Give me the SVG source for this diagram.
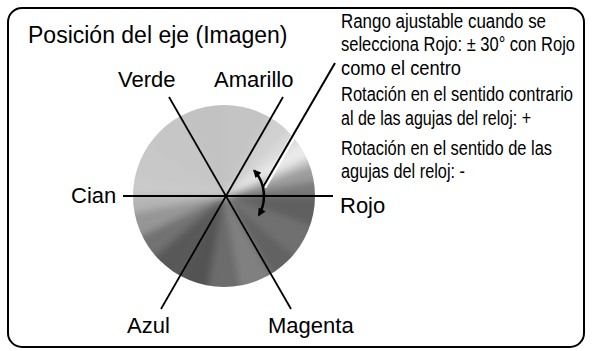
<svg xmlns="http://www.w3.org/2000/svg" width="592" height="351" viewBox="0 0 592 351">
<style>
.t{font-family:"Liberation Sans",Arial,sans-serif;fill:#000}
.lbl{font-size:22px}
.note{font-family:"Liberation Sans Narrow","Liberation Sans",Arial,sans-serif;font-size:19.5px}
.ax{stroke:#000;stroke-width:1.8;fill:none}
</style>
<defs>
<clipPath id="disc"><circle cx="224" cy="196" r="91"/></clipPath>
<filter id="soft" x="-20%" y="-20%" width="140%" height="140%"><feGaussianBlur stdDeviation="3.5"/></filter>
<marker id="ah" viewBox="0 0 10 10" refX="8" refY="5" markerWidth="9" markerHeight="8" markerUnits="userSpaceOnUse" orient="auto-start-reverse"><path d="M0,0 L10,5 L0,10 z" fill="#000"/></marker>
</defs>
<rect x="8" y="8" width="576" height="339" rx="14" ry="14" fill="#fff" stroke="#000" stroke-width="2"/>
<g id="disc-shading" clip-path="url(#disc)">
<g filter="url(#soft)">
<path d="M225,196 L355,196 L353,173.4 Z" fill="#7a7a7a"/>
<path d="M225,196 L353,173.4 L347.2,151.5 Z" fill="#9c9c9c"/>
<path d="M225,196 L347.2,151.5 L342.8,141.1 Z" fill="#c8c8c8"/>
<path d="M225,196 L342.8,141.1 L331.5,121.4 Z" fill="#eaeaea"/>
<path d="M225,196 L331.5,121.4 L316.9,104.1 Z" fill="#dadada"/>
<path d="M225,196 L316.9,104.1 L290,83.4 Z" fill="#d0d0d0"/>
<path d="M225,196 L290,83.4 L225,66 Z" fill="#c4c4c4"/>
<path d="M225,196 L225,66 L160,83.4 Z" fill="#c2c2c2"/>
<path d="M225,196 L160,83.4 L112.4,131 Z" fill="#c6c6c6"/>
<path d="M225,196 L112.4,131 L97,173.4 Z" fill="#c8c8c8"/>
<path d="M225,196 L97,173.4 L95,196 Z" fill="#cacaca"/>
<path d="M225,196 L95,196 L97,218.6 Z" fill="#b4b4b4"/>
<path d="M225,196 L97,218.6 L107.2,250.9 Z" fill="#969696"/>
<path d="M225,196 L107.2,250.9 L125.4,279.6 Z" fill="#727272"/>
<path d="M225,196 L125.4,279.6 L160,308.6 Z" fill="#585858"/>
<path d="M225,196 L160,308.6 L202.4,324 Z" fill="#525252"/>
<path d="M225,196 L202.4,324 L247.6,324 Z" fill="#6c6c6c"/>
<path d="M225,196 L247.6,324 L290,308.6 Z" fill="#808080"/>
<path d="M225,196 L290,308.6 L324.6,279.6 Z" fill="#626262"/>
<path d="M225,196 L324.6,279.6 L347.2,240.5 Z" fill="#707070"/>
<path d="M225,196 L347.2,240.5 L355,196 Z" fill="#606060"/>
</g>
</g>
<g id="connectors">
<line class="ax" x1="123" y1="196" x2="333" y2="196"/>
<line class="ax" x1="169" y1="97" x2="291" y2="309"/>
<line class="ax" x1="283" y1="97" x2="161" y2="309"/>
<line x1="264" y1="187" x2="336" y2="63" stroke="#fff" stroke-width="5"/>
<line x1="263" y1="187" x2="335" y2="63" stroke="#000" stroke-width="2"/>
<path d="M254.2,170.6 A38,38 0 0 1 258.9,215" fill="none" stroke="#000" stroke-width="2.5" marker-start="url(#ah)" marker-end="url(#ah)"/>
</g>
<g id="title"><text class="t" x="28" y="43" font-size="23">Posición del eje (Imagen)</text></g>
<g id="verde"><text class="t lbl" x="118" y="87">Verde</text></g>
<g id="amarillo"><text class="t lbl" x="214" y="87">Amarillo</text></g>
<g id="cian"><text class="t lbl" x="71" y="203">Cian</text></g>
<g id="rojo"><text class="t lbl" x="340" y="213">Rojo</text></g>
<g id="azul"><text class="t lbl" x="127" y="333">Azul</text></g>
<g id="magenta"><text class="t lbl" x="268" y="333">Magenta</text></g>
<g id="note">
<text class="t note" x="341" y="28" textLength="205" lengthAdjust="spacingAndGlyphs">Rango ajustable cuando se</text>
<text class="t note" x="341" y="51" textLength="234" lengthAdjust="spacingAndGlyphs">selecciona Rojo: ± 30° con Rojo</text>
<text class="t note" x="341" y="75" textLength="120" lengthAdjust="spacingAndGlyphs">como el centro</text>
<text class="t note" x="341" y="101" textLength="232" lengthAdjust="spacingAndGlyphs">Rotación en el sentido contrario</text>
<text class="t note" x="341" y="125" textLength="190" lengthAdjust="spacingAndGlyphs">al de las agujas del reloj: +</text>
<text class="t note" x="341" y="155" textLength="211" lengthAdjust="spacingAndGlyphs">Rotación en el sentido de las</text>
<text class="t note" x="341" y="178" textLength="124" lengthAdjust="spacingAndGlyphs">agujas del reloj: -</text>
</g>
</svg>
